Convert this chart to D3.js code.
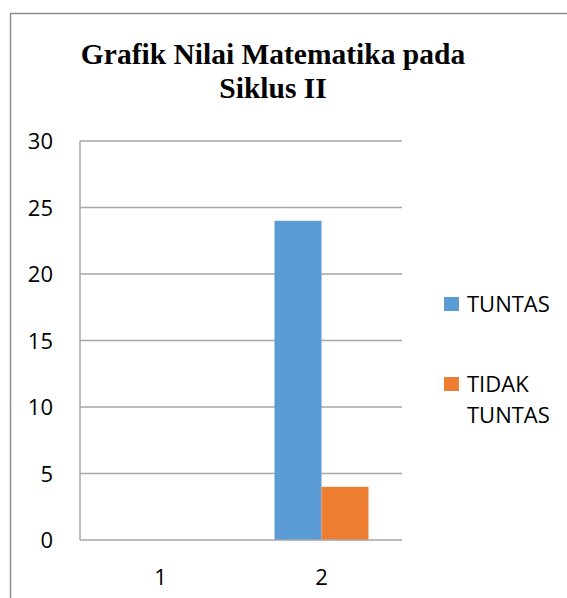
<!DOCTYPE html>
<meta charset="utf-8">
<style>
    body { margin: 0; background: #fff; }
    .grid line { stroke: #a6a6a6; stroke-width: 1.5px; }
    .lbl { font-family: "Open Sans", Lato, sans-serif; font-size: 22px; fill: #000; }
</style>
<svg width="567" height="598"></svg>
<script src="https://d3js.org/d3.v7.min.js"></script>
<script>

    var categories = ["1", "2"];
    var seriesNames = ["TUNTAS", "TIDAK TUNTAS"];
    var tuntas = [0, 24];
    var tidakTuntas = [0, 4];
    var yTicks = [0, 5, 10, 15, 20, 25, 30];
    var colors = ["#5b9bd5", "#ed7d31"];

    var svg = d3.select("svg");

    // outer frame
    svg.append("rect")
        .attr("x", 10.5).attr("y", 13.5)
        .attr("width", 700).attr("height", 700)
        .attr("fill", "none")
        .attr("stroke", "#8c8c8c")
        .attr("stroke-width", 1.5);

    // title
    var title = svg.append("text")
        .attr("text-anchor", "middle")
        .style("font-family", "'Liberation Serif', 'Times New Roman', serif")
        .style("font-weight", "bold")
        .style("font-size", "29.5px");
    title.append("tspan").attr("x", 273).attr("y", 64).text("Grafik Nilai Matematika pada");
    title.append("tspan").attr("x", 273).attr("y", 98).text("Siklus II");

    var plotL = 80, plotR = 402, plotT = 141, plotB = 540;

    var x = d3.scaleBand().domain(categories).range([plotL, plotR]);
    var y = d3.scaleLinear().domain([0, 30]).range([plotB, plotT]);
    var x1 = d3.scaleBand().domain(seriesNames).range([0, 94]);

    // gridlines
    svg.append("g").attr("class", "grid")
        .selectAll("line")
        .data(yTicks.slice(1))
        .enter().append("line")
        .attr("x1", plotL).attr("x2", plotR)
        .attr("y1", function(d) { return y(d); })
        .attr("y2", function(d) { return y(d); });

    // y labels
    svg.append("g")
        .selectAll("text")
        .data(yTicks)
        .enter().append("text")
        .attr("class", "lbl")
        .attr("x", 53)
        .attr("y", function(d) { return y(d) + 8; })
        .attr("text-anchor", "end")
        .text(function(d) { return d; });

    // bars
    var rows = categories.map(function(c, i) {
        return [{ c: c, s: seriesNames[0], v: tuntas[i] }, { c: c, s: seriesNames[1], v: tidakTuntas[i] }];
    });
    svg.append("g")
        .selectAll("g")
        .data(rows)
        .enter().append("g")
        .attr("transform", function(d) { return "translate(" + (x(d[0].c) + (x.bandwidth() - 94) / 2) + ",0)"; })
        .selectAll("rect")
        .data(function(d) { return d; })
        .enter().append("rect")
        .attr("x", function(d) { return x1(d.s); })
        .attr("width", x1.bandwidth())
        .attr("y", function(d) { return y(d.v); })
        .attr("height", function(d) { return y(0) - y(d.v); })
        .attr("fill", function(d, i) { return colors[i]; });

    // axis lines
    svg.append("line").attr("x1", plotL).attr("x2", plotR).attr("y1", plotB).attr("y2", plotB)
        .attr("stroke", "#a6a6a6").attr("stroke-width", 1.5);
    svg.append("line").attr("x1", plotL).attr("x2", plotL).attr("y1", plotT).attr("y2", plotB)
        .attr("stroke", "#a6a6a6").attr("stroke-width", 1.5);

    // x labels
    svg.append("g")
        .selectAll("text")
        .data(categories)
        .enter().append("text")
        .attr("class", "lbl")
        .attr("x", function(d) { return x(d) + x.bandwidth() / 2; })
        .attr("y", 585)
        .attr("text-anchor", "middle")
        .text(function(d) { return d; });

    // legend
    var legendY = [297, 377];
    var legendLines = [["TUNTAS"], ["TIDAK", "TUNTAS"]];
    seriesNames.forEach(function(s, i) {
        svg.append("rect")
            .attr("x", 444).attr("y", legendY[i])
            .attr("width", 15).attr("height", 14)
            .attr("fill", colors[i]);
        var t = svg.append("text").attr("class", "lbl");
        legendLines[i].forEach(function(line, j) {
            t.append("tspan").attr("x", 467).attr("y", legendY[i] + 15 + j * 31).text(line);
        });
    });

</script>
